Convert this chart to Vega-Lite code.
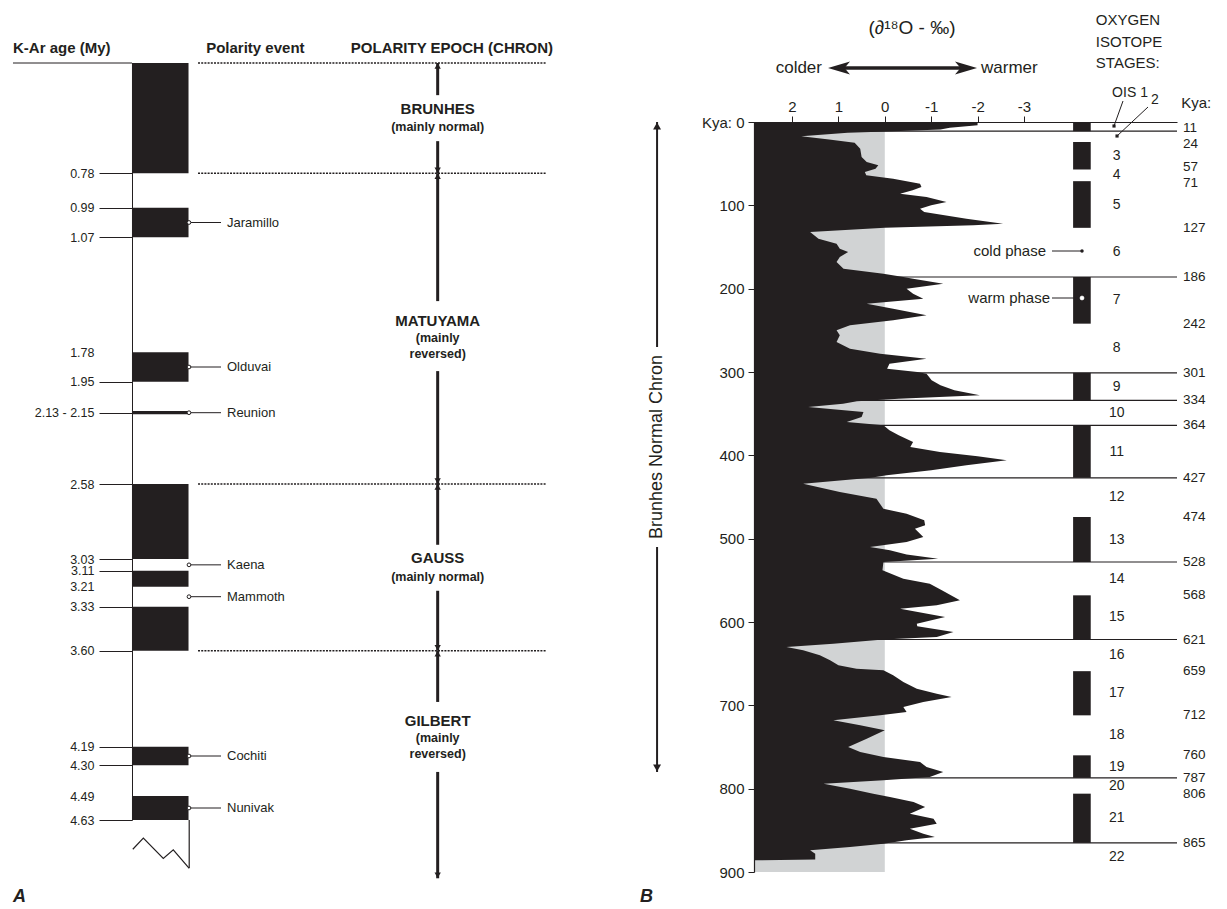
{
  "$schema": "https://vega.github.io/schema/vega-lite/v6.json",
  "width": 1227,
  "height": 909,
  "padding": 0,
  "autosize": {"type": "none"},
  "background": "white",
  "config": {
    "view": {"stroke": null},
    "text": {"font": "Liberation Sans", "color": "#231f20"},
    "axis": {"labelFont": "Liberation Sans"}
  },
  "datasets": {
    "polarity": [
      {"start": 0, "end": 0.78}, {"start": 0.99, "end": 1.07}, {"start": 1.78, "end": 1.95},
      {"start": 2.13, "end": 2.15}, {"start": 2.58, "end": 3.03}, {"start": 3.11, "end": 3.21},
      {"start": 3.33, "end": 3.6}, {"start": 4.19, "end": 4.3}, {"start": 4.49, "end": 4.63}
    ],
    "events": [
      {"event": "Jaramillo", "start": 0.99, "end": 1.07},
      {"event": "Olduvai", "start": 1.78, "end": 1.95},
      {"event": "Reunion", "start": 2.13, "end": 2.15},
      {"event": "Kaena", "start": 3.03, "end": 3.11},
      {"event": "Mammoth", "start": 3.21, "end": 3.33},
      {"event": "Cochiti", "start": 4.19, "end": 4.3},
      {"event": "Nunivak", "start": 4.49, "end": 4.63}
    ],
    "epochs": [
      {"epoch": "BRUNHES", "note": "(mainly normal)", "start": 0, "end": 0.78},
      {"epoch": "MATUYAMA", "note": "(mainly\nreversed)", "start": 0.78, "end": 2.58},
      {"epoch": "GAUSS", "note": "(mainly normal)", "start": 2.58, "end": 3.6},
      {"epoch": "GILBERT", "note": "(mainly\nreversed)", "start": 3.6, "end": 4.97}
    ],
    "stages": [
      {"stage": 1, "start": 0, "end": 11}, {"stage": 2, "start": 11, "end": 24},
      {"stage": 3, "start": 24, "end": 57}, {"stage": 4, "start": 57, "end": 71},
      {"stage": 5, "start": 71, "end": 127}, {"stage": 6, "start": 127, "end": 186},
      {"stage": 7, "start": 186, "end": 242}, {"stage": 8, "start": 242, "end": 301},
      {"stage": 9, "start": 301, "end": 334}, {"stage": 10, "start": 334, "end": 364},
      {"stage": 11, "start": 364, "end": 427}, {"stage": 12, "start": 427, "end": 474},
      {"stage": 13, "start": 474, "end": 528}, {"stage": 14, "start": 528, "end": 568},
      {"stage": 15, "start": 568, "end": 621}, {"stage": 16, "start": 621, "end": 659},
      {"stage": 17, "start": 659, "end": 712}, {"stage": 18, "start": 712, "end": 760},
      {"stage": 19, "start": 760, "end": 787}, {"stage": 20, "start": 787, "end": 806},
      {"stage": 21, "start": 806, "end": 865}, {"stage": 22, "start": 865, "end": 900}
    ],
    "terminations": [
      {"kya": 11}, {"kya": 186}, {"kya": 301}, {"kya": 334}, {"kya": 364},
      {"kya": 427}, {"kya": 528}, {"kya": 621}, {"kya": 787}, {"kya": 865}
    ],
    "curve": [
      {"kya": 0, "d18o": -2.0}, {"kya": 4, "d18o": -2.0}, {"kya": 7, "d18o": -1.4}, {"kya": 9, "d18o": -1.2},
      {"kya": 11, "d18o": -0.2}, {"kya": 13, "d18o": 0.8}, {"kya": 17, "d18o": 1.8}, {"kya": 21, "d18o": 1.2},
      {"kya": 25, "d18o": 0.65}, {"kya": 32, "d18o": 0.53}, {"kya": 42, "d18o": 0.5}, {"kya": 48, "d18o": 0.39},
      {"kya": 52, "d18o": 0.14}, {"kya": 56, "d18o": 0.2}, {"kya": 60, "d18o": 0.43}, {"kya": 64, "d18o": 0.4},
      {"kya": 68, "d18o": -0.18}, {"kya": 74, "d18o": -0.76}, {"kya": 78, "d18o": -0.79}, {"kya": 82, "d18o": -0.6},
      {"kya": 86, "d18o": -0.33}, {"kya": 90, "d18o": -0.9}, {"kya": 96, "d18o": -1.33}, {"kya": 100, "d18o": -1.0},
      {"kya": 104, "d18o": -0.76}, {"kya": 108, "d18o": -0.85}, {"kya": 116, "d18o": -1.76}, {"kya": 122, "d18o": -2.55},
      {"kya": 124, "d18o": -1.91}, {"kya": 127, "d18o": 0.0}, {"kya": 132, "d18o": 1.61}, {"kya": 140, "d18o": 1.43},
      {"kya": 146, "d18o": 1.04}, {"kya": 152, "d18o": 0.97}, {"kya": 156, "d18o": 0.79}, {"kya": 162, "d18o": 0.97},
      {"kya": 168, "d18o": 1.04}, {"kya": 176, "d18o": 0.89}, {"kya": 182, "d18o": 0.03}, {"kya": 186, "d18o": -0.4},
      {"kya": 188, "d18o": -0.61}, {"kya": 194, "d18o": -1.26}, {"kya": 200, "d18o": -0.47}, {"kya": 206, "d18o": -0.61},
      {"kya": 212, "d18o": -0.83}, {"kya": 218, "d18o": 0.39}, {"kya": 224, "d18o": -0.18}, {"kya": 232, "d18o": -0.9},
      {"kya": 238, "d18o": -0.18}, {"kya": 244, "d18o": 0.75}, {"kya": 250, "d18o": 1.04}, {"kya": 256, "d18o": 0.97},
      {"kya": 264, "d18o": 1.04}, {"kya": 272, "d18o": 0.75}, {"kya": 278, "d18o": 0.1}, {"kya": 284, "d18o": -0.9},
      {"kya": 290, "d18o": -0.1}, {"kya": 296, "d18o": -0.05}, {"kya": 300, "d18o": -0.7}, {"kya": 302, "d18o": -0.9},
      {"kya": 310, "d18o": -1.01}, {"kya": 316, "d18o": -1.2}, {"kya": 322, "d18o": -1.5}, {"kya": 328, "d18o": -2.05},
      {"kya": 332, "d18o": -0.3}, {"kya": 335, "d18o": 0.6}, {"kya": 338, "d18o": 0.9}, {"kya": 342, "d18o": 1.65},
      {"kya": 348, "d18o": 0.46}, {"kya": 354, "d18o": 0.5}, {"kya": 360, "d18o": 0.82}, {"kya": 364, "d18o": 0.03},
      {"kya": 370, "d18o": -0.1}, {"kya": 376, "d18o": -0.3}, {"kya": 384, "d18o": -0.61}, {"kya": 390, "d18o": -0.55},
      {"kya": 396, "d18o": -1.19}, {"kya": 401, "d18o": -2.0}, {"kya": 406, "d18o": -2.63}, {"kya": 412, "d18o": -1.76},
      {"kya": 418, "d18o": -1.0}, {"kya": 424, "d18o": -0.04}, {"kya": 427, "d18o": 0.3}, {"kya": 434, "d18o": 1.76},
      {"kya": 444, "d18o": 0.97}, {"kya": 452, "d18o": 0.18}, {"kya": 464, "d18o": 0.03}, {"kya": 470, "d18o": -0.47},
      {"kya": 478, "d18o": -0.85}, {"kya": 484, "d18o": -0.87}, {"kya": 488, "d18o": -0.65}, {"kya": 498, "d18o": -0.83},
      {"kya": 504, "d18o": -0.47}, {"kya": 510, "d18o": 0.32}, {"kya": 514, "d18o": -0.11}, {"kya": 519, "d18o": -0.47},
      {"kya": 524, "d18o": -1.15}, {"kya": 528, "d18o": 0.03}, {"kya": 538, "d18o": 0.05}, {"kya": 548, "d18o": -0.4},
      {"kya": 554, "d18o": -0.97}, {"kya": 562, "d18o": -1.23}, {"kya": 574, "d18o": -1.62}, {"kya": 580, "d18o": -1.12},
      {"kya": 584, "d18o": -0.33}, {"kya": 594, "d18o": -1.3}, {"kya": 602, "d18o": -0.69}, {"kya": 605, "d18o": -0.7},
      {"kya": 612, "d18o": -1.48}, {"kya": 618, "d18o": -1.12}, {"kya": 621, "d18o": 0.03}, {"kya": 626, "d18o": 1.11},
      {"kya": 630, "d18o": 2.12}, {"kya": 634, "d18o": 1.76}, {"kya": 640, "d18o": 1.4}, {"kya": 646, "d18o": 1.18},
      {"kya": 652, "d18o": 1.0}, {"kya": 656, "d18o": 0.61}, {"kya": 658, "d18o": 0.03}, {"kya": 664, "d18o": -0.18},
      {"kya": 672, "d18o": -0.4}, {"kya": 680, "d18o": -0.69}, {"kya": 686, "d18o": -1.12}, {"kya": 690, "d18o": -1.44},
      {"kya": 696, "d18o": -0.83}, {"kya": 702, "d18o": -0.4}, {"kya": 708, "d18o": -0.47}, {"kya": 712, "d18o": 0.1},
      {"kya": 718, "d18o": 1.11}, {"kya": 724, "d18o": 0.53}, {"kya": 730, "d18o": 0.0}, {"kya": 740, "d18o": 0.39},
      {"kya": 750, "d18o": 0.79}, {"kya": 756, "d18o": 0.53}, {"kya": 762, "d18o": 0.03}, {"kya": 768, "d18o": -0.76},
      {"kya": 774, "d18o": -0.9}, {"kya": 780, "d18o": -1.26}, {"kya": 786, "d18o": -0.97}, {"kya": 790, "d18o": 0.03},
      {"kya": 794, "d18o": 1.32}, {"kya": 800, "d18o": 0.75}, {"kya": 806, "d18o": 0.25}, {"kya": 810, "d18o": -0.11},
      {"kya": 816, "d18o": -0.62}, {"kya": 822, "d18o": -0.87}, {"kya": 830, "d18o": -0.54}, {"kya": 836, "d18o": -1.05},
      {"kya": 842, "d18o": -1.12}, {"kya": 848, "d18o": -0.54}, {"kya": 854, "d18o": -0.83}, {"kya": 858, "d18o": -1.08},
      {"kya": 862, "d18o": -0.47}, {"kya": 866, "d18o": 0.03}, {"kya": 870, "d18o": 0.75}, {"kya": 874, "d18o": 1.61},
      {"kya": 878, "d18o": 1.5}, {"kya": 885, "d18o": 1.5}, {"kya": 886, "d18o": 2.82}, {"kya": 900, "d18o": 2.82}
    ]
  },
  "layer": [
    {
      "layer": [
        {
          "data": {"name": "polarity"},
          "mark": {"type": "rect", "color": "#231f20"},
          "encoding": {
            "x": {"datum": 24.9, "type": "quantitative", "scale": {"domain": [0, 100], "range": [0, 530], "zero": false, "nice": false}, "axis": null},
            "x2": {"datum": 35.57},
            "y": {
              "field": "start", "type": "quantitative", "title": null,
              "scale": {
                "domain": [0, 0.78, 0.99, 1.07, 1.78, 1.95, 2.14, 2.58, 3.03, 3.11, 3.21, 3.33, 3.6, 4.19, 4.3, 4.49, 4.63],
                "range": [63, 173.3, 207.7, 237.3, 352.3, 381.7, 412.7, 484, 559, 570.7, 586.7, 606.7, 650.7, 746.7, 765.3, 796, 820],
                "zero": false, "nice": false
              },
              "axis": {
                "orient": "left", "offset": -132, "title": null, "grid": false,
                "values": [0.78, 0.99, 1.07, 1.78, 1.95, 2.14, 2.58, 3.03, 3.11, 3.21, 3.33, 3.6, 4.19, 4.3, 4.49, 4.63],
                "labelExpr": "datum.value == 2.14 ? '2.13 - 2.15' : format(datum.value, '.2f')",
                "tickSize": 33, "tickWidth": 1,
                "tickColor": {"condition": {"test": "datum.value == 1.78 || datum.value == 3.21 || datum.value == 4.49", "value": "transparent"}, "value": "#231f20"},
                "domainColor": "#231f20", "domainWidth": 1,
                "labelFontSize": 12.5, "labelColor": "#231f20", "labelPadding": 5,
                "labelOverlap": false, "labelFlush": false, "labelBound": false, "zindex": 1
              }
            },
            "y2": {"field": "end"}
          }
        },
        {
          "data": {"values": [{}]},
          "mark": {"type": "rule", "color": "#231f20", "strokeWidth": 1},
          "encoding": {
            "x": {"datum": 2.45, "type": "quantitative", "axis": null},
            "x2": {"datum": 24.9},
            "y": {"datum": 0, "type": "quantitative"}
          }
        },
        {
          "data": {"name": "epochs"},
          "mark": {"type": "rule", "color": "#231f20", "strokeWidth": 1.5, "strokeDash": [2, 1.2]},
          "encoding": {
            "x": {"datum": 37.36, "type": "quantitative", "axis": null},
            "x2": {"datum": 103},
            "y": {"field": "start", "type": "quantitative", "title": null}
          }
        },
        {
          "data": {"name": "epochs"},
          "mark": {"type": "rule", "color": "#231f20", "strokeWidth": 3},
          "encoding": {
            "x": {"datum": 82.58, "type": "quantitative", "axis": null},
            "y": {"field": "start", "type": "quantitative", "title": null},
            "y2": {"field": "end"}
          }
        },
        {
          "data": {"name": "epochs"},
          "mark": {"type": "point", "shape": "triangle-up", "filled": true, "color": "#231f20", "opacity": 1, "size": 40, "yOffset": 3},
          "encoding": {
            "x": {"datum": 82.58, "type": "quantitative", "axis": null},
            "y": {"field": "start", "type": "quantitative", "title": null}
          }
        },
        {
          "data": {"name": "epochs"},
          "mark": {"type": "point", "shape": "triangle-down", "filled": true, "color": "#231f20", "opacity": 1, "size": 40, "yOffset": -3},
          "encoding": {
            "x": {"datum": 82.58, "type": "quantitative", "axis": null},
            "y": {"field": "end", "type": "quantitative", "title": null}
          }
        },
        {
          "data": {"name": "epochs"},
          "transform": [{"calculate": "datum.end > 4.9 ? 4.13 : (datum.start + datum.end) / 2", "as": "mid"}],
          "mark": {"type": "point", "filled": true, "color": "white", "opacity": 1, "shape": "M-0.15,-1H0.15V1H-0.15Z"},
          "encoding": {
            "x": {"datum": 82.58, "type": "quantitative", "axis": null},
            "y": {"field": "mid", "type": "quantitative", "title": null},
            "size": {"condition": {"test": "indexof(datum.note, 'reversed') >= 0", "value": 4900}, "value": 2116}
          }
        },
        {
          "data": {"name": "epochs"},
          "transform": [
            {"calculate": "datum.end > 4.9 ? 4.13 : (datum.start + datum.end) / 2", "as": "mid"},
            {"filter": "indexof(datum.note, 'reversed') < 0"}
          ],
          "mark": {"type": "text", "fontSize": 15, "fontWeight": "bold", "align": "center", "baseline": "middle", "dy": -9.4},
          "encoding": {
            "x": {"datum": 82.58, "type": "quantitative", "axis": null},
            "y": {"field": "mid", "type": "quantitative", "title": null},
            "text": {"field": "epoch"}
          }
        },
        {
          "data": {"name": "epochs"},
          "transform": [
            {"calculate": "datum.end > 4.9 ? 4.13 : (datum.start + datum.end) / 2", "as": "mid"},
            {"filter": "indexof(datum.note, 'reversed') < 0"}
          ],
          "mark": {"type": "text", "fontSize": 12.5, "fontWeight": "bold", "align": "center", "baseline": "middle", "dy": 9.3},
          "encoding": {
            "x": {"datum": 82.58, "type": "quantitative", "axis": null},
            "y": {"field": "mid", "type": "quantitative", "title": null},
            "text": {"field": "note"}
          }
        },
        {
          "data": {"name": "epochs"},
          "transform": [
            {"calculate": "datum.end > 4.9 ? 4.13 : (datum.start + datum.end) / 2", "as": "mid"},
            {"filter": "indexof(datum.note, 'reversed') >= 0"}
          ],
          "mark": {"type": "text", "fontSize": 15, "fontWeight": "bold", "align": "center", "baseline": "middle", "dy": -15.5},
          "encoding": {
            "x": {"datum": 82.58, "type": "quantitative", "axis": null},
            "y": {"field": "mid", "type": "quantitative", "title": null},
            "text": {"field": "epoch"}
          }
        },
        {
          "data": {"name": "epochs"},
          "transform": [
            {"calculate": "datum.end > 4.9 ? 4.13 : (datum.start + datum.end) / 2", "as": "mid"},
            {"filter": "indexof(datum.note, 'reversed') >= 0"}
          ],
          "mark": {"type": "text", "fontSize": 12.5, "fontWeight": "bold", "align": "center", "baseline": "middle", "dy": 1.5, "lineBreak": "\n", "lineHeight": 16},
          "encoding": {
            "x": {"datum": 82.58, "type": "quantitative", "axis": null},
            "y": {"field": "mid", "type": "quantitative", "title": null},
            "text": {"field": "note"}
          }
        },
        {
          "data": {"name": "events"},
          "transform": [{"calculate": "(datum.start + datum.end) / 2", "as": "mid"}],
          "mark": {"type": "rule", "color": "#231f20", "strokeWidth": 1},
          "encoding": {
            "x": {"datum": 35.66, "type": "quantitative", "axis": null},
            "x2": {"datum": 41.7},
            "y": {"field": "mid", "type": "quantitative", "title": null}
          }
        },
        {
          "data": {"name": "events"},
          "transform": [{"calculate": "(datum.start + datum.end) / 2", "as": "mid"}],
          "mark": {"type": "point", "shape": "circle", "size": 14, "filled": true, "fill": "white", "stroke": "#231f20", "strokeWidth": 1, "opacity": 1},
          "encoding": {
            "x": {"datum": 35.66, "type": "quantitative", "axis": null},
            "y": {"field": "mid", "type": "quantitative", "title": null}
          }
        },
        {
          "data": {"name": "events"},
          "transform": [{"calculate": "(datum.start + datum.end) / 2", "as": "mid"}],
          "mark": {"type": "text", "fontSize": 13, "align": "left", "baseline": "middle"},
          "encoding": {
            "x": {"datum": 42.83, "type": "quantitative", "axis": null},
            "y": {"field": "mid", "type": "quantitative", "title": null},
            "text": {"field": "event"}
          }
        },
        {
          "data": {"values": [{}]},
          "mark": {"type": "text", "text": "K-Ar age (My)", "fontSize": 15, "fontWeight": "bold", "align": "left", "baseline": "middle"},
          "encoding": {
            "x": {"datum": 2.45, "type": "quantitative", "axis": null},
            "y": {"datum": -0.106, "type": "quantitative"}
          }
        },
        {
          "data": {"values": [{}]},
          "mark": {"type": "text", "text": "Polarity event", "fontSize": 15, "fontWeight": "bold", "align": "left", "baseline": "middle"},
          "encoding": {
            "x": {"datum": 38.9, "type": "quantitative", "axis": null},
            "y": {"datum": -0.106, "type": "quantitative"}
          }
        },
        {
          "data": {"values": [{}]},
          "mark": {"type": "text", "text": "POLARITY EPOCH (CHRON)", "fontSize": 15, "fontWeight": "bold", "align": "left", "baseline": "middle"},
          "encoding": {
            "x": {"datum": 66.2, "type": "quantitative", "axis": null},
            "y": {"datum": -0.106, "type": "quantitative"}
          }
        },
        {
          "data": {"values": [{}]},
          "mark": {"type": "point", "filled": false, "stroke": "#231f20", "strokeWidth": 1.2, "opacity": 1, "size": 3249, "shape": "M-0.99,-0.14L-0.62,-0.53L0.08,0.18L0.43,-0.12L0.99,0.53"},
          "encoding": {
            "x": {"datum": 30.38, "type": "quantitative", "axis": null},
            "y": {"datum": 4.824, "type": "quantitative"}
          }
        },
        {
          "data": {"values": [{}]},
          "mark": {"type": "rule", "color": "#231f20", "strokeWidth": 1.2},
          "encoding": {
            "x": {"datum": 35.7, "type": "quantitative", "axis": null},
            "y": {"datum": 4.63, "type": "quantitative"},
            "y2": {"datum": 4.91}
          }
        },
        {
          "data": {"values": [{}]},
          "mark": {"type": "text", "text": "A", "fontSize": 18, "fontWeight": "bold", "fontStyle": "italic", "align": "left", "baseline": "middle"},
          "encoding": {
            "x": {"datum": 2.45, "type": "quantitative", "axis": null},
            "y": {"datum": 5.08, "type": "quantitative"}
          }
        }
      ]
    },
    {
      "layer": [
        {
          "data": {"values": [{}]},
          "mark": {"type": "rect", "color": "#d1d3d4"},
          "encoding": {
            "x": {
              "datum": 2.82, "type": "quantitative",
              "scale": {"domain": [2.82, -6.3], "range": [754, 1177], "zero": false, "nice": false},
              "axis": {
                "orient": "top", "offset": -122, "title": null, "grid": false,
                "values": [2, 1, 0, -1, -2, -3],
                "labelExpr": "datum.value < 0 ? '-' + abs(datum.value) : '' + datum.value",
                "tickSize": 6, "tickColor": "#231f20", "domainColor": "#231f20", "domainWidth": 1.2,
                "labelFontSize": 15, "labelColor": "#231f20", "labelPadding": 2,
                "labelOverlap": false, "labelFlush": false, "labelBound": false, "zindex": 1
              }
            },
            "x2": {"datum": 0},
            "y": {
              "datum": 0, "type": "quantitative",
              "scale": {"domain": [0, 900], "range": [122, 872], "zero": false, "nice": false},
              "axis": {
                "orient": "left", "offset": -754, "title": null, "grid": false,
                "values": [0, 100, 200, 300, 400, 500, 600, 700, 800, 900],
                "labelExpr": "datum.value == 0 ? 'Kya: 0' : '' + datum.value",
                "tickSize": 6, "tickColor": "#231f20", "domainColor": "#231f20", "domainWidth": 1.2,
                "labelFontSize": 15, "labelColor": "#231f20", "labelPadding": 4,
                "labelOverlap": false, "labelFlush": false, "labelBound": false, "zindex": 1
              }
            },
            "y2": {"datum": 900}
          }
        },
        {
          "data": {"name": "terminations"},
          "mark": {"type": "rule", "color": "#231f20", "strokeWidth": 1.2},
          "encoding": {
            "x": {"datum": 2.82, "type": "quantitative"},
            "x2": {"datum": -6.3},
            "y": {"field": "kya", "type": "quantitative", "title": null}
          }
        },
        {
          "data": {"name": "curve"},
          "mark": {"type": "area", "orient": "horizontal", "color": "#231f20", "opacity": 1},
          "encoding": {
            "x": {"field": "d18o", "type": "quantitative", "title": null},
            "x2": {"datum": 2.82},
            "y": {"field": "kya", "type": "quantitative", "title": null}
          }
        },
        {
          "data": {"name": "stages"},
          "transform": [{"filter": "datum.stage % 2 == 1"}],
          "mark": {"type": "rect", "color": "#231f20"},
          "encoding": {
            "x": {"datum": -4.06, "type": "quantitative"},
            "x2": {"datum": -4.44},
            "y": {"field": "start", "type": "quantitative", "title": null},
            "y2": {"field": "end"}
          }
        },
        {
          "data": {"name": "stages"},
          "transform": [{"filter": "datum.stage >= 3"}, {"calculate": "(datum.start + datum.end) / 2", "as": "mid"}],
          "mark": {"type": "text", "fontSize": 14, "align": "center", "baseline": "middle"},
          "encoding": {
            "x": {"datum": -5.0, "type": "quantitative"},
            "y": {"field": "mid", "type": "quantitative", "title": null},
            "text": {"field": "stage"}
          }
        },
        {
          "data": {"name": "stages"},
          "transform": [{"filter": "datum.stage >= 5 && datum.stage <= 21"}],
          "mark": {"type": "text", "fontSize": 13.5, "align": "left", "baseline": "middle"},
          "encoding": {
            "x": {"datum": -6.43, "type": "quantitative"},
            "y": {"field": "end", "type": "quantitative", "title": null},
            "text": {"field": "end"}
          }
        },
        {
          "data": {"name": "stages"},
          "transform": [{"filter": "datum.stage == 1 || datum.stage == 3"}],
          "mark": {"type": "text", "fontSize": 13.5, "align": "left", "baseline": "middle", "dy": -3},
          "encoding": {
            "x": {"datum": -6.43, "type": "quantitative"},
            "y": {"field": "end", "type": "quantitative", "title": null},
            "text": {"field": "end"}
          }
        },
        {
          "data": {"name": "stages"},
          "transform": [{"filter": "datum.stage == 2 || datum.stage == 4"}],
          "mark": {"type": "text", "fontSize": 13.5, "align": "left", "baseline": "middle", "dy": 2},
          "encoding": {
            "x": {"datum": -6.43, "type": "quantitative"},
            "y": {"field": "end", "type": "quantitative", "title": null},
            "text": {"field": "end"}
          }
        },
        {
          "data": {"values": [{}]},
          "mark": {"type": "text", "text": "Kya:", "fontSize": 15, "align": "left", "baseline": "middle"},
          "encoding": {
            "x": {"datum": -6.39, "type": "quantitative"},
            "y": {"datum": -22.8, "type": "quantitative"}
          }
        },
        {
          "data": {"values": [{}]},
          "mark": {"type": "text", "text": "OIS 1", "fontSize": 14, "align": "center", "baseline": "middle"},
          "encoding": {
            "x": {"datum": -5.287, "type": "quantitative"},
            "y": {"datum": -34.8, "type": "quantitative"}
          }
        },
        {
          "data": {"values": [{}]},
          "mark": {"type": "text", "text": "2", "fontSize": 14, "align": "center", "baseline": "middle"},
          "encoding": {
            "x": {"datum": -5.826, "type": "quantitative"},
            "y": {"datum": -26.4, "type": "quantitative"}
          }
        },
        {
          "data": {"values": [{}]},
          "mark": {"type": "rule", "color": "#231f20", "strokeWidth": 1},
          "encoding": {
            "x": {"datum": -5.136, "type": "quantitative"},
            "x2": {"datum": -4.942},
            "y": {"datum": -25.2, "type": "quantitative"},
            "y2": {"datum": 4.8}
          }
        },
        {
          "data": {"values": [{}]},
          "mark": {"type": "rule", "color": "#231f20", "strokeWidth": 1},
          "encoding": {
            "x": {"datum": -5.675, "type": "quantitative"},
            "x2": {"datum": -5.007},
            "y": {"datum": -18, "type": "quantitative"},
            "y2": {"datum": 16.8}
          }
        },
        {
          "data": {"values": [{}]},
          "mark": {"type": "point", "shape": "square", "size": 10, "filled": true, "color": "#231f20", "opacity": 1},
          "encoding": {
            "x": {"datum": -4.942, "type": "quantitative"},
            "y": {"datum": 4.8, "type": "quantitative"}
          }
        },
        {
          "data": {"values": [{}]},
          "mark": {"type": "point", "shape": "square", "size": 10, "filled": true, "color": "#231f20", "opacity": 1},
          "encoding": {
            "x": {"datum": -5.007, "type": "quantitative"},
            "y": {"datum": 16.8, "type": "quantitative"}
          }
        },
        {
          "data": {"values": [{}]},
          "mark": {"type": "text", "text": "cold phase", "fontSize": 15, "align": "right", "baseline": "middle"},
          "encoding": {
            "x": {"datum": -3.476, "type": "quantitative"},
            "y": {"datum": 154.8, "type": "quantitative"}
          }
        },
        {
          "data": {"values": [{}]},
          "mark": {"type": "rule", "color": "#231f20", "strokeWidth": 1},
          "encoding": {
            "x": {"datum": -3.605, "type": "quantitative"},
            "x2": {"datum": -4.252},
            "y": {"datum": 154.8, "type": "quantitative"}
          }
        },
        {
          "data": {"values": [{}]},
          "mark": {"type": "point", "shape": "circle", "size": 12, "filled": true, "color": "#231f20", "opacity": 1},
          "encoding": {
            "x": {"datum": -4.252, "type": "quantitative"},
            "y": {"datum": 154.8, "type": "quantitative"}
          }
        },
        {
          "data": {"values": [{}]},
          "mark": {"type": "text", "text": "warm phase", "fontSize": 15, "align": "right", "baseline": "middle"},
          "encoding": {
            "x": {"datum": -3.562, "type": "quantitative"},
            "y": {"datum": 211.2, "type": "quantitative"}
          }
        },
        {
          "data": {"values": [{}]},
          "mark": {"type": "rule", "color": "#231f20", "strokeWidth": 1},
          "encoding": {
            "x": {"datum": -3.605, "type": "quantitative"},
            "x2": {"datum": -4.252},
            "y": {"datum": 211.2, "type": "quantitative"}
          }
        },
        {
          "data": {"values": [{}]},
          "mark": {"type": "point", "shape": "circle", "size": 14, "filled": true, "fill": "white", "stroke": "white", "strokeWidth": 1, "opacity": 1},
          "encoding": {
            "x": {"datum": -4.252, "type": "quantitative"},
            "y": {"datum": 211.2, "type": "quantitative"}
          }
        },
        {
          "data": {"values": [{}]},
          "mark": {"type": "text", "text": "(∂¹⁸O - ‰)", "fontSize": 19, "align": "center", "baseline": "middle"},
          "encoding": {
            "x": {"datum": -0.587, "type": "quantitative"},
            "y": {"datum": -112.8, "type": "quantitative"}
          }
        },
        {
          "data": {"values": [{}]},
          "mark": {"type": "text", "text": "colder", "fontSize": 17, "align": "right", "baseline": "middle"},
          "encoding": {
            "x": {"datum": 1.354, "type": "quantitative"},
            "y": {"datum": -64.8, "type": "quantitative"}
          }
        },
        {
          "data": {"values": [{}]},
          "mark": {"type": "text", "text": "warmer", "fontSize": 17, "align": "left", "baseline": "middle"},
          "encoding": {
            "x": {"datum": -2.074, "type": "quantitative"},
            "y": {"datum": -64.8, "type": "quantitative"}
          }
        },
        {
          "data": {"values": [{}]},
          "mark": {"type": "rule", "color": "#231f20", "strokeWidth": 3.5},
          "encoding": {
            "x": {"datum": 1.0, "type": "quantitative"},
            "x2": {"datum": -1.76},
            "y": {"datum": -64.8, "type": "quantitative"}
          }
        },
        {
          "data": {"values": [{}]},
          "mark": {"type": "point", "filled": true, "color": "#231f20", "opacity": 1, "size": 484, "shape": "M-1,0L1,-0.6L0.5,0L1,0.6Z"},
          "encoding": {
            "x": {"datum": 0.987, "type": "quantitative"},
            "y": {"datum": -64.8, "type": "quantitative"}
          }
        },
        {
          "data": {"values": [{}]},
          "mark": {"type": "point", "filled": true, "color": "#231f20", "opacity": 1, "size": 484, "shape": "M1,0L-1,-0.6L-0.5,0L-1,0.6Z"},
          "encoding": {
            "x": {"datum": -1.751, "type": "quantitative"},
            "y": {"datum": -64.8, "type": "quantitative"}
          }
        },
        {
          "data": {"values": [{}]},
          "mark": {"type": "text", "text": ["OXYGEN", "ISOTOPE", "STAGES:"], "fontSize": 15, "align": "left", "baseline": "middle", "lineHeight": 21.5},
          "encoding": {
            "x": {"datum": -4.55, "type": "quantitative"},
            "y": {"datum": -122.4, "type": "quantitative"}
          }
        },
        {
          "data": {"values": [{}]},
          "mark": {"type": "rule", "color": "#231f20", "strokeWidth": 2},
          "encoding": {
            "x": {"datum": 4.91, "type": "quantitative"},
            "y": {"datum": 0, "type": "quantitative"},
            "y2": {"datum": 780}
          }
        },
        {
          "data": {"values": [{}]},
          "mark": {"type": "point", "shape": "triangle-up", "filled": true, "color": "#231f20", "opacity": 1, "size": 64, "yOffset": 4},
          "encoding": {
            "x": {"datum": 4.91, "type": "quantitative"},
            "y": {"datum": 0, "type": "quantitative"}
          }
        },
        {
          "data": {"values": [{}]},
          "mark": {"type": "point", "shape": "triangle-down", "filled": true, "color": "#231f20", "opacity": 1, "size": 64, "yOffset": -4},
          "encoding": {
            "x": {"datum": 4.91, "type": "quantitative"},
            "y": {"datum": 780, "type": "quantitative"}
          }
        },
        {
          "data": {"values": [{}]},
          "mark": {"type": "point", "filled": true, "color": "white", "opacity": 1, "size": 40000, "shape": "M-0.06,-1H0.06V1H-0.06Z"},
          "encoding": {
            "x": {"datum": 4.91, "type": "quantitative"},
            "y": {"datum": 390, "type": "quantitative"}
          }
        },
        {
          "data": {"values": [{}]},
          "mark": {"type": "text", "text": "Brunhes Normal Chron", "fontSize": 18, "angle": 270, "align": "center", "baseline": "middle"},
          "encoding": {
            "x": {"datum": 4.91, "type": "quantitative"},
            "y": {"datum": 390, "type": "quantitative"}
          }
        },
        {
          "data": {"values": [{}]},
          "mark": {"type": "text", "text": "B", "fontSize": 18, "fontWeight": "bold", "fontStyle": "italic", "align": "left", "baseline": "middle"},
          "encoding": {
            "x": {"datum": 5.278, "type": "quantitative"},
            "y": {"datum": 930, "type": "quantitative"}
          }
        }
      ]
    }
  ],
  "resolve": {"scale": {"x": "independent", "y": "independent"}}
}
